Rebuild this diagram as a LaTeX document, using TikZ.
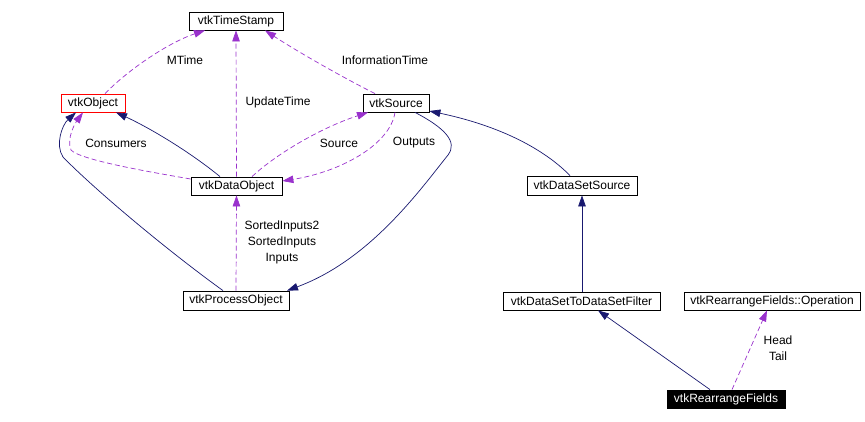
\documentclass[tikz,border=0pt]{standalone}
\usepackage{fontspec}
\setmainfont{Liberation Sans}
\usetikzlibrary{arrows.meta}
\definecolor{navy}{HTML}{191970}
\definecolor{orchid}{HTML}{9A32CD}
\tikzset{
  cls/.style={draw=black, line width=0.8pt, fill=white, inner sep=0pt, minimum height=18pt, font=\fontsize{12}{14}\selectfont},
  lbl/.style={inner sep=0pt, align=center, font=\fontsize{12}{16}\selectfont},
  inh/.style={draw=navy, line width=0.7pt, -{Triangle[length=11pt,width=7.5pt]}},
  use/.style={draw=orchid, line width=0.7pt, dash pattern=on 5pt off 3pt, -{Triangle[length=11pt,width=7.5pt]}},
}
\begin{document}
\begin{tikzpicture}[x=1pt,y=-1pt]
\useasboundingbox (0,0) rectangle (865,421);
\fill[white] (0,0) rectangle (865,421);
% nodes
\node[cls, minimum width=94pt] (ts) at (236,21) {vtkTimeStamp};
\node[cls, draw=red, minimum width=64pt] (obj) at (93,103) {vtkObject};
\node[cls, minimum width=66pt] (src) at (396,103) {vtkSource};
\node[cls, minimum width=91pt] (dobj) at (236.5,186) {vtkDataObject};
\node[cls, minimum width=106pt, minimum height=19pt] (pobj) at (236,300.5) {vtkProcessObject};
\node[cls, minimum width=110pt, minimum height=19pt] (dss) at (582,185.5) {vtkDataSetSource};
\node[cls, minimum width=157pt] (dsf) at (581.5,301) {vtkDataSetToDataSetFilter};
\node[cls, minimum width=176pt] (op) at (772,301) {vtkRearrangeFields::Operation};
\node[cls, fill=black, text=white, minimum width=118pt] (rf) at (726,399) {vtkRearrangeFields};
% connectors
\draw[use] ([xshift=12pt]obj.north) .. controls (130,68) and (170,42) .. ([xshift=-31pt]ts.south);
\draw[use] (dobj.north) -- (ts.south);
\draw[use] ([xshift=-21pt]src.north) .. controls (340,76) and (295,50) .. ([xshift=29pt]ts.south);
\draw[use] ([yshift=7pt]dobj.west) .. controls (150,172) and (80,160) .. (71,150) .. controls (66,138) and (76,122) .. ([xshift=-10pt]obj.south);
\draw[inh] ([xshift=-16.5pt]dobj.north) .. controls (190,152) and (150,128) .. ([xshift=23pt]obj.south);
\draw[use] ([xshift=15.5pt]dobj.north) .. controls (275,155) and (320,128) .. ([xshift=-28pt]src.south);
\draw[use] ([xshift=-1pt]src.south) .. controls (390,145) and (340,172) .. ([yshift=5pt]dobj.east);
\draw[inh] ([xshift=-13pt]pobj.north) .. controls (160,245) and (90,185) .. (63,157) .. controls (55,145) and (62,125) .. ([xshift=-17pt]obj.south);
\draw[use] (pobj.north) -- (dobj.south);
\draw[inh] ([xshift=19pt]src.south) .. controls (445,128) and (458,142) .. (448,155) .. controls (420,190) and (370,260) .. ([xshift=51pt]pobj.north);
\draw[inh] ([xshift=-12pt]dss.north) .. controls (550,155) and (510,128) .. ([yshift=-8pt]src.east);
\draw[inh] (dsf.north -| dss.south) -- (dss.south);
\draw[inh] ([xshift=-16pt]rf.north) -- ([xshift=16.5pt]dsf.south);
\draw[use] ([xshift=6pt]rf.north) -- ([xshift=-5pt]op.south);
% labels
\node[lbl] (lmtime) at (185,60) {MTime};
\node[lbl] (lupd) at (278,102) {UpdateTime};
\node[lbl] (linfo) at (385,60) {InformationTime};
\node[lbl] (lcons) at (116,143) {Consumers};
\node[lbl] (lsrc) at (339,143) {Source};
\node[lbl] (lout) at (414,143) {Outputs};
\node[lbl] (linp) at (282,242) {SortedInputs2\\SortedInputs\\Inputs};
\node[lbl] (lht) at (778,348) {Head\\Tail};
\end{tikzpicture}
\end{document}
